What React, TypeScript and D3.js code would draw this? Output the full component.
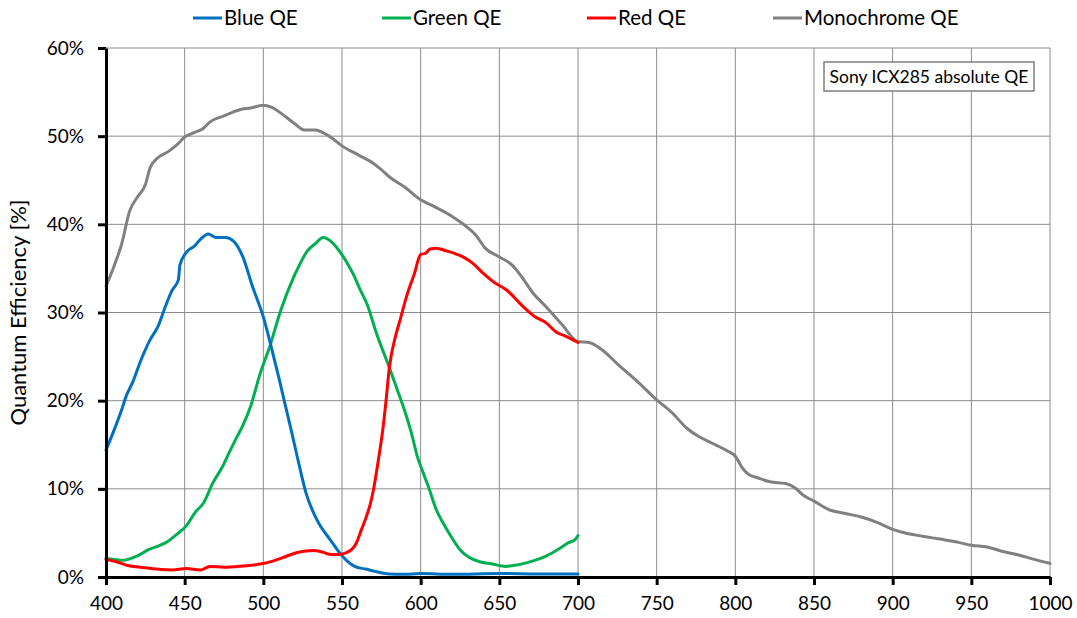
import React, { useEffect, useRef } from 'react';
import * as d3 from 'd3';

// Sony ICX285 QE curves (nm, %)
const blueQE: [number, number][] = [
  [400, 14.4], [405, 16.6], [410, 19.0], [413, 20.6], [417, 22.1], [422, 24.5], [428, 26.9],
  [433, 28.4], [438, 30.8], [442, 32.5], [446, 33.7], [447, 35.4], [452, 37.0], [456, 37.5],
  [460, 38.3], [465, 38.9], [470, 38.5], [476, 38.5], [481, 38.1], [487, 36.3], [493, 33.0],
  [500, 29.5], [506, 25.4], [510, 22.5], [513, 20.2], [517, 17.2], [522, 13.3], [527, 9.6],
  [534, 6.5], [543, 4.1], [550, 2.4], [558, 1.2], [565, 0.9], [572, 0.6], [580, 0.35],
  [590, 0.3], [600, 0.4], [620, 0.3], [650, 0.4], [675, 0.35], [700, 0.35],
];

const greenQE: [number, number][] = [
  [400, 2.1], [405, 2.0], [411, 1.9], [420, 2.4], [427, 3.1], [433, 3.5], [438, 3.9],
  [444, 4.7], [451, 5.8], [457, 7.4], [462, 8.4], [468, 10.7], [474, 12.5], [478, 14.0],
  [483, 15.8], [487, 17.2], [492, 19.4], [498, 23.1], [504, 26.1], [511, 30.2], [519, 33.9],
  [523, 35.4], [528, 37.0], [533, 37.8], [538, 38.5], [544, 37.9], [549, 36.8], [553, 35.7],
  [557, 34.4], [561, 32.8], [566, 30.9], [572, 27.6], [580, 23.8], [585, 21.3], [589, 19.3],
  [594, 16.4], [598, 13.6], [601, 12.1], [605, 10.2], [610, 7.6], [614, 6.2], [620, 4.4],
  [625, 3.1], [631, 2.2], [638, 1.7], [645, 1.5], [654, 1.2], [662, 1.4], [671, 1.8],
  [680, 2.4], [688, 3.2], [694, 3.9], [698, 4.2], [700, 4.7],
];

const redQE: [number, number][] = [
  [400, 2.0], [407, 1.7], [414, 1.3], [425, 1.05], [435, 0.85], [442, 0.8], [451, 0.95],
  [460, 0.8], [466, 1.2], [475, 1.1], [487, 1.25], [499, 1.5], [506, 1.8], [514, 2.3],
  [521, 2.75], [527, 2.95], [532, 3.0], [538, 2.8], [543, 2.55], [548, 2.55], [552, 2.7],
  [556, 3.1], [559, 3.8], [562, 5.2], [565, 6.6], [568, 8.3], [570, 9.9], [572, 12.0],
  [574, 14.3], [576, 16.8], [578, 20.0], [580, 23.6], [584, 27.3], [587, 29.2], [591, 31.8],
  [596, 34.4], [600, 36.6], [603, 36.7], [606, 37.2], [610, 37.3], [616, 37.0], [623, 36.6],
  [628, 36.2], [633, 35.6], [640, 34.4], [646, 33.5], [655, 32.5], [665, 30.7], [672, 29.6],
  [680, 28.8], [686, 27.8], [691, 27.4], [700, 26.6],
];

const monoQE: [number, number][] = [
  [400, 33.0], [405, 35.2], [410, 37.8], [415, 41.5], [420, 43.1], [425, 44.5], [428, 46.4],
  [432, 47.4], [440, 48.3], [445, 49.0], [450, 49.9], [456, 50.4], [462, 50.9], [466, 51.6],
  [475, 52.3], [485, 53.0], [492, 53.2], [500, 53.5], [505, 53.3], [512, 52.5], [520, 51.4],
  [526, 50.7], [533, 50.7], [540, 50.2], [545, 49.6], [550, 48.9], [560, 47.9], [570, 46.9],
  [575, 46.2], [580, 45.4], [590, 44.2], [599, 42.9], [610, 41.9], [620, 40.9], [628, 39.9],
  [635, 38.8], [641, 37.3], [650, 36.3], [658, 35.4], [664, 34.1], [671, 32.3], [680, 30.6],
  [690, 28.6], [700, 26.7], [707, 26.6], [715, 25.8], [726, 24.0], [737, 22.3], [750, 20.1],
  [760, 18.6], [769, 16.9], [777, 15.9], [785, 15.2], [795, 14.3], [800, 13.7], [804, 12.5],
  [808, 11.7], [815, 11.2], [822, 10.8], [832, 10.6], [838, 10.1], [843, 9.3], [850, 8.6],
  [860, 7.6], [870, 7.2], [880, 6.8], [890, 6.2], [900, 5.4], [910, 4.9], [920, 4.6],
  [930, 4.3], [940, 4.0], [950, 3.6], [960, 3.4], [970, 2.9], [980, 2.5], [990, 2.0],
  [1000, 1.55],
];

const seriesNames = ['Blue QE', 'Green QE', 'Red QE', 'Monochrome QE'];
const seriesData = [blueQE, greenQE, redQE, monoQE];
const seriesColors = ['#0070C0', '#00B050', '#FF0000', '#808080'];
const xTicks = [400, 450, 500, 550, 600, 650, 700, 750, 800, 850, 900, 950, 1000];
const yTicks = [0, 10, 20, 30, 40, 50, 60];
const legendX = [193, 382, 587, 773];

const W = 1077;
const H = 618;
const M = { top: 48, right: 27, bottom: 41, left: 106 };
const FONT = 'Lato, "Open Sans", sans-serif';

const App = () => {
  const svgRef = useRef<SVGSVGElement | null>(null);

  useEffect(() => {
    const svg = d3.select(svgRef.current);
    svg.selectAll('*').remove();

    const x = d3.scaleLinear().domain([400, 1000]).range([M.left, W - M.right]);
    const y = d3.scaleLinear().domain([0, 60]).range([H - M.bottom, M.top]);

    svg.append('rect').attr('width', W).attr('height', H).attr('fill', '#fff');

    // grid
    const grid = svg.append('g').attr('stroke', '#8c8c8c').attr('stroke-width', 1);
    xTicks.slice(1).forEach(t => {
      grid.append('line').attr('x1', x(t)).attr('x2', x(t)).attr('y1', y(0)).attr('y2', y(60));
    });
    yTicks.slice(1).forEach(t => {
      grid.append('line').attr('x1', x(400)).attr('x2', x(1000)).attr('y1', y(t)).attr('y2', y(t));
    });

    // series
    const line = d3.line<[number, number]>()
      .x(d => x(d[0]))
      .y(d => y(d[1]))
      .curve(d3.curveMonotoneX);

    [3, 1, 0, 2].forEach(i => {
      svg.append('path')
        .attr('d', line(seriesData[i]) || '')
        .attr('fill', 'none')
        .attr('stroke', seriesColors[i])
        .attr('stroke-width', 3)
        .attr('stroke-linejoin', 'round')
        .attr('stroke-linecap', 'round');
    });

    // axes
    const xAxis = svg.append('g')
      .attr('transform', `translate(0,${y(0)})`)
      .call(d3.axisBottom(x).tickValues(xTicks).tickSize(8).tickSizeOuter(0).tickPadding(12)
        .tickFormat(d3.format('d')));
    xAxis.select('.domain').attr('stroke', '#000').attr('stroke-width', 3);
    xAxis.selectAll('.tick line').attr('stroke', '#000').attr('stroke-width', 3);
    xAxis.selectAll('.tick text')
      .attr('fill', '#000')
      .style('font-size', '19px')
      .style('font-family', FONT);

    const yAxis = svg.append('g')
      .attr('transform', `translate(${x(400)},0)`)
      .call(d3.axisLeft(y).tickValues(yTicks).tickSize(8).tickSizeOuter(0).tickPadding(14)
        .tickFormat(d => `${d}%`));
    yAxis.select('.domain').attr('stroke', '#000').attr('stroke-width', 3);
    yAxis.selectAll('.tick line').attr('stroke', '#000').attr('stroke-width', 3);
    yAxis.selectAll('.tick text')
      .attr('fill', '#000')
      .style('font-size', '19px')
      .style('font-family', FONT);

    svg.append('text')
      .attr('transform', `translate(26,${(y(0) + y(60)) / 2}) rotate(-90)`)
      .attr('text-anchor', 'middle')
      .style('font-size', '22px')
      .style('font-family', FONT)
      .text('Quantum Efficiency [%]');

    // legend
    seriesNames.forEach((name, i) => {
      const lg = svg.append('g').attr('transform', `translate(${legendX[i]},18)`);
      lg.append('line').attr('x1', 0).attr('x2', 29).attr('stroke', seriesColors[i]).attr('stroke-width', 3);
      lg.append('text')
        .attr('x', 31)
        .attr('dy', '0.35em')
        .style('font-size', '20.5px')
        .style('font-family', FONT)
        .text(name);
    });

    // annotation box
    svg.append('rect')
      .attr('x', 824).attr('y', 62).attr('width', 210).attr('height', 29)
      .attr('fill', '#fff').attr('stroke', '#7f7f7f').attr('stroke-width', 1.5);
    svg.append('text')
      .attr('x', 929).attr('y', 77)
      .attr('dy', '0.35em')
      .attr('text-anchor', 'middle')
      .style('font-size', '17.5px')
      .style('font-family', FONT)
      .text('Sony ICX285 absolute QE');
  }, []);

  return (
    <div style={{ position: 'absolute', left: 0, top: 0 }}>
      <svg ref={svgRef} width={W} height={H} />
    </div>
  );
};

export default App;
